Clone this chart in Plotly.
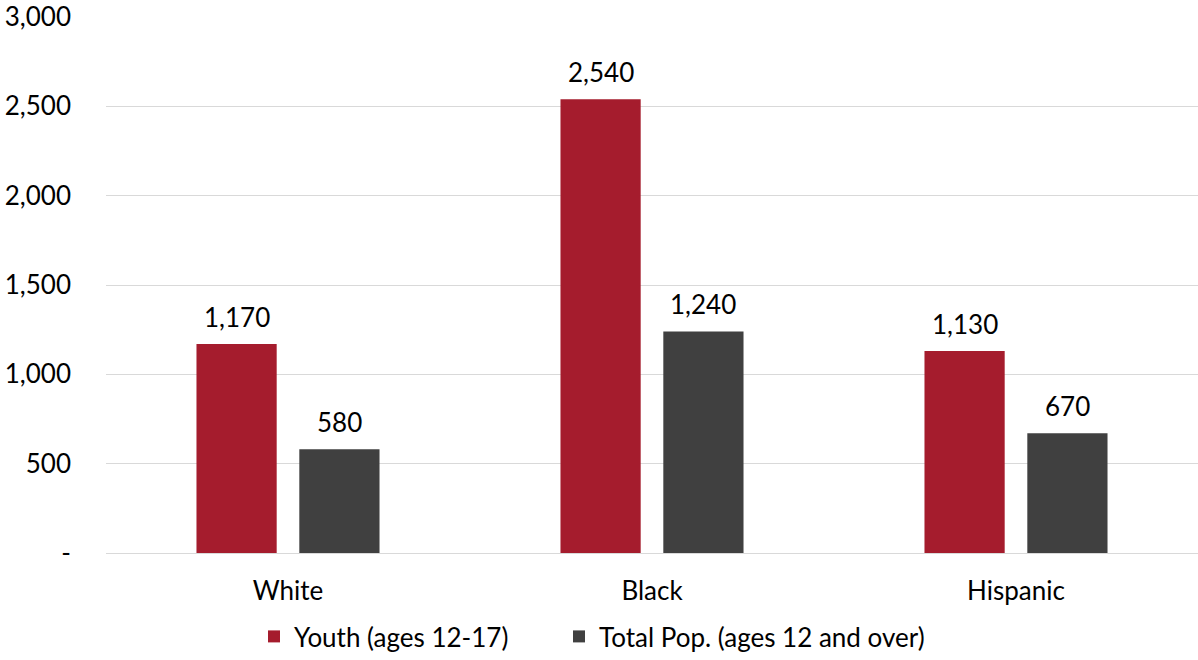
import plotly.graph_objects as go

categories = ["White", "Black", "Hispanic"]
youth = [1170, 2540, 1130]
total_pop = [580, 1240, 670]
series_names = ["Youth (ages 12-17)", "Total Pop. (ages 12 and over)"]
colors = ["#A51C2D", "#404040"]
y_tickvals = [0, 500, 1000, 1500, 2000, 2500, 3000]
y_ticktext = ["-", "500", "1,000", "1,500", "2,000", "2,500", "3,000"]

FONT = "Lato"
FS = 26
W, H = 1198, 660
ML, MR, MT, MB = 106, 0, 17, 107
BARGAP = 0.435
BARGROUPGAP = 0.22
LEGEND_LEFT_PX = [254, 559]

fig = go.Figure()
for i, (name, vals, col) in enumerate(zip(series_names, [youth, total_pop], colors)):
    fig.add_trace(go.Bar(
        x=categories, y=vals, name=name,
        marker=dict(color=col, line=dict(width=0)),
        legend="legend" if i == 0 else "legend2",
        showlegend=True,
    ))

# data labels placed above each bar
cat_px = (W - ML - MR) / len(categories)
slot = cat_px * (1 - BARGAP) / 2
for i, vals in enumerate([youth, total_pop]):
    shift = (i - 0.5) * slot
    for c, v in zip(categories, vals):
        fig.add_annotation(x=c, y=v, xref="x", yref="y", text=f"{v:,}",
                           showarrow=False, yanchor="bottom", xanchor="center",
                           xshift=shift, yshift=9,
                           font=dict(family=FONT, size=FS, color="#000000"))

legend_common = dict(orientation="h", xref="container", xanchor="left",
                     yref="container", y=0.0, yanchor="bottom",
                     font=dict(family=FONT, size=FS, color="#000000"),
                     bgcolor="rgba(0,0,0,0)", visible=True)

fig.update_layout(
    width=W, height=H, showlegend=True,
    margin=dict(l=ML, r=MR, t=MT, b=MB, autoexpand=False),
    paper_bgcolor="white", plot_bgcolor="white",
    barmode="group", bargap=BARGAP, bargroupgap=BARGROUPGAP,
    font=dict(family=FONT, size=FS, color="#000000"),
    legend=dict(x=LEGEND_LEFT_PX[0] / W, **legend_common),
    legend2=dict(x=LEGEND_LEFT_PX[1] / W, **legend_common),
    xaxis=dict(showgrid=False, showline=False, ticks="", ticklabelstandoff=20,
               tickfont=dict(family=FONT, size=FS, color="#000000")),
    yaxis=dict(range=[0, 3000], tickvals=y_tickvals, ticktext=y_ticktext,
               showgrid=True, gridcolor="#D9D9D9", gridwidth=1,
               zeroline=True, zerolinecolor="#D9D9D9", zerolinewidth=1,
               showline=False, ticks="", ticklabelstandoff=34,
               ticklabeloverflow="allow",
               tickfont=dict(family=FONT, size=FS, color="#000000")),
)
fig.write_html("out.html")
